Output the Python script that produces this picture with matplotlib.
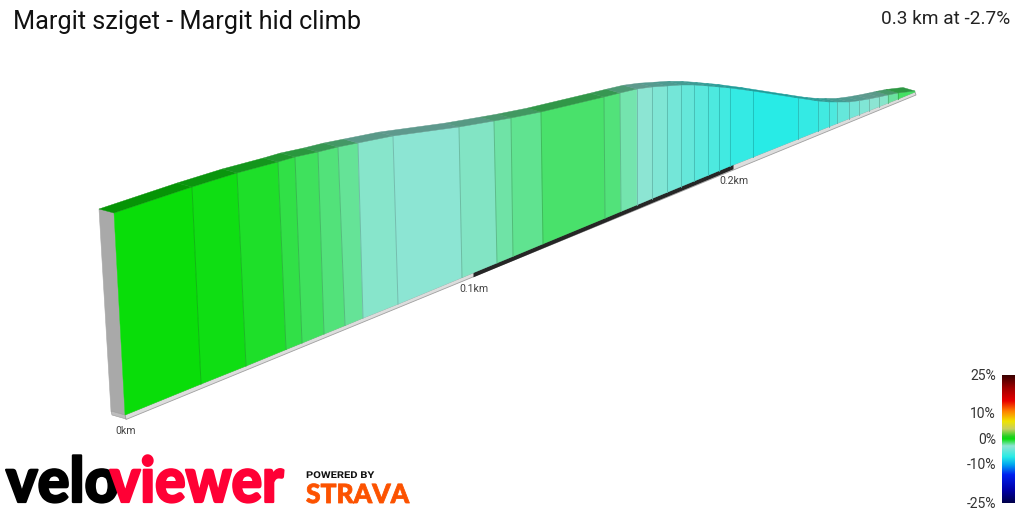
import numpy as np
import matplotlib
matplotlib.use('Agg')
import matplotlib.pyplot as plt
from matplotlib.colors import LinearSegmentedColormap
from matplotlib.patches import Polygon
from matplotlib.patheffects import AbstractPathEffect
from matplotlib.transforms import Affine2D

plt.rcParams['font.family'] = ['Roboto', 'DejaVu Sans']

# front face of the ribbon (pixels)
top_x = [114, 192, 237, 278, 295, 318, 338, 358, 393, 459, 494, 511, 541, 604, 620, 637, 652, 667,
         681, 694, 708, 719, 730, 753, 798, 818, 829, 837, 849, 859, 869, 879, 888, 898, 915]
top_y = [213, 187, 173, 162, 157, 152, 147, 143, 136, 127, 121, 118, 112, 97, 93, 89, 87, 86,
         85, 85, 86, 87, 88, 91, 98, 101, 102, 102, 102, 100.7, 99, 97, 95, 93, 91]
base_x = [125, 201, 246, 286, 302, 324, 345, 363, 398, 462, 497, 513, 543, 605, 621, 637, 652, 667,
          681, 694, 708, 719, 730, 753, 798, 818, 829, 837, 849, 859, 869, 879, 888, 898, 915]
base_y = [415, 384, 366, 349.5, 343, 334, 325.5, 318, 304, 277.5, 263, 256.4, 243.9, 218.2, 211.5, 204.9, 198.6, 192.4,
          186.6, 181.2, 175.4, 170.8, 166.2, 157, 139, 131, 126.6, 123.4, 118.6, 114.6, 110.6, 106.6, 103, 99, 92]
# gradient of each segment, %
grades = [0, -0.1, -0.45, -0.8, -1.1, -1.5, -1.9, -2.6, -3, -2.5, -2.1, -1.8, -1.35, -1.5, -2.2, -2.9, -3.5,
          -4, -4.5, -5, -5.5, -6, -6.5, -7, -6.5, -6, -5.5, -4.5, -4, -3.5, -3, -2.6, -2, -1.2]

# km markers
km_labels = ['0km', '0.1km', '0.2km']
km_x = [125, 473, 733]
km_y = [415, 273, 165]

# colour scale
scale_ticks = [25, 10, 0, -10, -25]
scale_stops = [(-25, '#00004a'), (-20, '#0000a8'), (-14, '#0020f0'), (-10, '#00a8f0'), (-7, '#28ebe6'),
               (-3, '#8ce5d3'), (-2.7, '#8ce5d3'), (0, '#08de08'), (1, '#20d020'), (4, '#c8d060'),
               (7, '#f0e400'), (11, '#ff8000'), (15, '#e80000'), (20, '#a00000'), (25, '#3a0000')]


class Stretch(AbstractPathEffect):
    # squeeze or widen text horizontally around x0 (display px), optional outline to fatten it
    def __init__(self, x0, sx, stroke=0):
        super().__init__()
        self.x0, self.sx, self.stroke = x0, sx, stroke

    def draw_path(self, renderer, gc, tpath, affine, rgbFace=None):
        t = affine + Affine2D().translate(-self.x0, 0).scale(self.sx, 1).translate(self.x0, 0)
        gc0 = renderer.new_gc()
        gc0.copy_properties(gc)
        if self.stroke:
            gc0.set_linewidth(self.stroke)
            gc0.set_foreground(rgbFace)
        renderer.draw_path(gc0, tpath, t, rgbFace)
        gc0.restore()


cmap = LinearSegmentedColormap.from_list('grade', [((v + 25) / 50, c) for v, c in scale_stops], N=512)


def grade_color(g):
    return np.array(cmap((g + 25) / 50))[:3]


fig = plt.figure(figsize=(10.24, 5.12), dpi=100)
ax = fig.add_axes([0, 0, 1, 1])
ax.set_xlim(0, 1024)
ax.set_ylim(512, 0)
ax.axis('off')

tx, ty = np.array(top_x, float), np.array(top_y, float)
bx, by = np.array(base_x, float), np.array(base_y, float)
# back edge of the ribbon top
back_x = tx - np.linspace(15, 12, len(tx))
back_y = ty - np.linspace(4, 3.5, len(ty))

# underside strip and end cap
ax.add_patch(Polygon(list(zip(bx, by)) + [(916, 95), (126, 419.5)], fc='#dddddd', ec='#a0a0a0', lw=0.6, zorder=1))
ax.add_patch(Polygon([(99, 209), (114, 213), (125, 415), (111, 411)], fc='#a9a9a9', ec='#a9a9a9', lw=0.4, zorder=2))
ax.add_patch(Polygon([(111, 411), (125, 415), (126, 419), (112, 415)], fc='#bdbdbd', ec='#999999', lw=0.4, zorder=2))

# dark section of the base between the markers
sel = (bx > km_x[1]) & (bx < km_x[2])
dark_x = np.r_[km_x[1], bx[sel], km_x[2]]
dark_y = np.r_[km_y[1], by[sel], km_y[2]]
ax.fill_between(dark_x, dark_y - 1, dark_y + 3.8, color='#262626', lw=0, zorder=2)

for i, g in enumerate(grades):
    c = grade_color(g)
    ax.add_patch(Polygon([(tx[i], ty[i]), (tx[i + 1], ty[i + 1]), (bx[i + 1], by[i + 1]), (bx[i], by[i])],
                         fc=c, ec=c, lw=0.3, zorder=3))
    ax.add_patch(Polygon([(back_x[i], back_y[i]), (back_x[i + 1], back_y[i + 1]), (tx[i + 1], ty[i + 1]), (tx[i], ty[i])],
                         fc=c * 0.67, ec=c * 0.67, lw=0.3, zorder=4))
    if i > 0:
        ax.plot([tx[i], bx[i]], [ty[i], by[i]], color=c * 0.78, lw=0.7, alpha=0.8, zorder=5)

for lab, x, y in zip(km_labels, km_x, km_y):
    ax.text(x + 1, y + 19, lab, fontsize=7.6, color='#444444', ha='center', va='baseline')

ax.text(13, 28.5, 'Margit sziget - Margit hid climb', fontsize=18.2, color='#111111', ha='left', va='baseline')
ax.text(1010, 24.5, '0.3 km at -2.7%', fontsize=13.7, color='#222222', ha='right', va='baseline')

# colour scale
grad = np.linspace(25, -25, 256).reshape(-1, 1)
ax.imshow(grad, cmap=cmap, vmin=-25, vmax=25, extent=(1002, 1015, 503, 375), aspect='auto', zorder=3)
ax.set_xlim(0, 1024)
ax.set_ylim(512, 0)
for v in scale_ticks:
    ax.text(996, 439.5 - v * 2.56, f'{v}%', fontsize=10, color='#333333', ha='right', va='center')

# logos
ax.text(6, 502, 'velo', fontsize=45, family='Lato', weight='black', color='#000000', va='baseline', ha='left',
        path_effects=[Stretch(6, 0.95, 1.6)], zorder=6)
ax.text(110, 502, 'viewer', fontsize=45, family='Lato', weight='black', color='#ff0035', va='baseline', ha='left',
        path_effects=[Stretch(110, 0.91, 1.6)], zorder=7)
ax.text(306, 478, 'POWERED BY', fontsize=6.8, weight='bold', color='#111111', va='baseline', ha='left',
        path_effects=[Stretch(306, 1.18)])
ax.text(306, 503, 'STRAVA', fontsize=19, family='Lato', weight='black', color='#fc5200', va='baseline', ha='left',
        path_effects=[Stretch(306, 1.0, 0.6)])

fig.savefig('out.png', dpi=100)
